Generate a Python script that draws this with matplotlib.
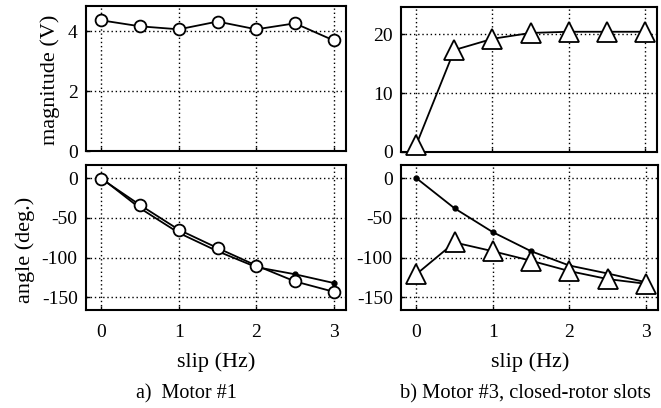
import matplotlib
matplotlib.use("Agg")
import matplotlib.pyplot as plt

plt.rcParams['font.family'] = ['Liberation Serif', 'DejaVu Serif']

slip = [0, 0.5, 1, 1.5, 2, 2.5, 3]
m1_mag = [4.37, 4.17, 4.07, 4.33, 4.07, 4.27, 3.7]
m3_mag = [1.2, 17.3, 19.2, 20.2, 20.4, 20.4, 20.4]
m1_ang_meas = [-1, -34, -65, -88, -110, -130, -143]
m1_ang_model = [0, -38, -69, -92, -112, -121, -132]
m3_ang_meas = [-121, -81, -92, -104, -117, -127, -133]
m3_ang_model = [0, -38, -68, -92, -110, -120, -131]

xticks = [0, 1, 2, 3]
mag1_ticks = [0, 2, 4]
mag3_ticks = [0, 10, 20]
ang_ticks = [0, -50, -100, -150]

W, H = 661, 408
fig = plt.figure(figsize=(W / 100, H / 100), dpi=100)

def box(l, r, t, b):
    return [l / W, 1 - b / H, (r - l) / W, (b - t) / H]

ax_tl = fig.add_axes(box(86, 346, 6, 151))
ax_tr = fig.add_axes(box(401, 657, 7, 152))
ax_bl = fig.add_axes(box(86, 346, 165, 310))
ax_br = fig.add_axes(box(401, 658, 165, 310))

lw = 1.3
circ = dict(marker='o', markersize=8.5, markerfacecolor='white', markeredgecolor='black',
            markeredgewidth=1.3, color='black', lw=lw)
tri = dict(marker='^', markersize=14, markerfacecolor='white', markeredgecolor='black',
           markeredgewidth=1.3, color='black', lw=lw)
dot = dict(marker='o', markersize=3.5, markerfacecolor='black', markeredgecolor='black',
           color='black', lw=lw)

ax_tl.plot(slip, m1_mag, clip_on=False, zorder=3, **circ)
ax_tr.plot(slip, m3_mag, clip_on=False, zorder=3, **tri)
ax_bl.plot(slip, m1_ang_model, zorder=3, **dot)
ax_bl.plot(slip, m1_ang_meas, clip_on=False, zorder=4, **circ)
ax_br.plot(slip, m3_ang_model, zorder=3, **dot)
ax_br.plot(slip, m3_ang_meas, clip_on=False, zorder=4, **tri)

for ax in (ax_tl, ax_tr, ax_bl, ax_br):
    ax.set_xlim(-0.2, 3.16)
    ax.set_xticks(xticks)
    ax.grid(True, color='black', linestyle=(0, (1, 2)), linewidth=1.0)
    ax.tick_params(direction='in', length=3, width=1, labelsize=14, pad=6,
                   top=False, right=False)
    for s in ax.spines.values():
        s.set_linewidth(1.5)

ax_tl.set_ylim(0, 4.85)
ax_tl.set_yticks(mag1_ticks)
ax_tr.set_ylim(0, 24.6)
ax_tr.set_yticks(mag3_ticks)
for ax in (ax_bl, ax_br):
    ax.set_ylim(-166, 16.5)
    ax.set_yticks(ang_ticks)
    ax.set_yticklabels([str(v) for v in ang_ticks])
    ax.tick_params(axis='x', pad=10)

for ax in (ax_tl, ax_tr):
    ax.tick_params(axis='x', labelbottom=False)

fig.text(50 / W, 1 - 80 / H, 'magnitude (V)', rotation=90, ha='center', va='center', fontsize=16)
fig.text(25 / W, 1 - 250 / H, 'angle (deg.)', rotation=90, ha='center', va='center', fontsize=16)
fig.text(216 / W, 1 - 362 / H, 'slip (Hz)', ha='center', va='center', fontsize=16)
fig.text(530 / W, 1 - 362 / H, 'slip (Hz)', ha='center', va='center', fontsize=16)
fig.text(186 / W, 1 - 394 / H, 'a)  Motor #1', ha='center', va='center', fontsize=14.5)
fig.text(525 / W, 1 - 394 / H, 'b) Motor #3, closed-rotor slots', ha='center', va='center', fontsize=14.8)

fig.savefig('out.png', dpi=100)
